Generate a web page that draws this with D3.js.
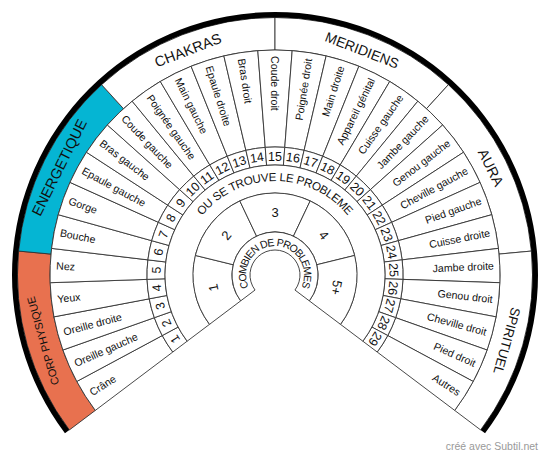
<!DOCTYPE html>
<html><head><meta charset="utf-8">
<script src="https://cdn.jsdelivr.net/npm/d3@7"></script>
<style>body{margin:0;background:#fff}svg{display:block}</style>
</head><body>
<svg id="c" width="550" height="456"></svg>
<script>
// ---------- data ----------
const categories = ["CORP PHYSIQUE","ENERGETIQUE","CHAKRAS","MERIDIENS","AURA","SPIRITUEL"];
const parts = ["Crâne","Oreille gauche","Oreille droite","Yeux","Nez","Bouche","Gorge","Epaule gauche",
  "Bras gauche","Coude gauche","Poignée gauche","Main gauche","Epaule droite","Bras droit","Coude droit",
  "Poignée droit","Main droite","Appareil génital","Cuisse gauche","Jambe gauche","Genou gauche",
  "Cheville gauche","Pied gauche","Cuisse droite","Jambe droite","Genou droit","Cheville droit","Pied droit","Autres"];
const partNumbers = ["1","2","3","4","5","6","7","8","9","10","11","12","13","14","15","16","17","18","19",
  "20","21","22","23","24","25","26","27","28","29"];
const counts = ["1","2","3","4","5+"];
const ringTitle = "OU SE TROUVE LE PROBLEME";
const innerTitle = "COMBIEN DE PROBLEMES";
const credit = "créé avec Subtil.net";

// ---------- style ----------
const FONT = "'Liberation Sans', Arial, Helvetica, sans-serif";
const catFill = {"CORP PHYSIQUE":"#E8714F","ENERGETIQUE":"#05B5D3"};
const catFont = {"CORP PHYSIQUE":11,"ENERGETIQUE":14.5,"CHAKRAS":14.5,"MERIDIENS":14,"AURA":14.3,"SPIRITUEL":13.3};
const LINE = "#333";
const cx = 275, cy = 275, A0 = -127, A1 = 127;
const R = {hole:25, countIn:43, countOut:82, numIn:110, numOut:128, partOut:225, band:257.5, outer:263};
const rad = d => d*Math.PI/180;

const svg = d3.select("#c");
const g = svg.append("g").attr("transform", `translate(${cx},${cy})`);
const arc = d3.arc();

const catScale = d3.scaleBand().domain(categories).range([A0, A1]);
const partScale = d3.scaleBand().domain(parts).range([A0, A1]);
const numScale = d3.scaleBand().domain(partNumbers).range([A0, A1]);
const countScale = d3.scaleBand().domain(counts).range([A0, A1]);
const mid = (s, d) => s(d) + s.bandwidth()/2;
const pos = (r, a) => [r*Math.sin(rad(a)), -r*Math.cos(rad(a))];

function ring(cls, scale, domain, rIn, rOut, fillFn) {
  g.selectAll("path."+cls).data(domain).join("path").attr("class", cls)
    .attr("d", d => arc({innerRadius:rIn, outerRadius:rOut,
      startAngle:rad(scale(d)), endAngle:rad(scale(d)+scale.bandwidth())}))
    .attr("fill", fillFn || "#fff").attr("stroke", LINE).attr("stroke-width", 0.9);
}
function fullRing(rIn, rOut) {
  g.append("path").attr("d", arc({innerRadius:rIn, outerRadius:rOut, startAngle:rad(A0), endAngle:rad(A1)}))
    .attr("fill", "#fff").attr("stroke", LINE).attr("stroke-width", 0.9);
}

// rings
ring("cat", catScale, categories, R.partOut, R.band, d => catFill[d] || "#fff");
g.append("path").attr("d", arc({innerRadius:R.band, outerRadius:R.outer, startAngle:rad(A0), endAngle:rad(A1)}))
  .attr("fill", "#000");
ring("part", partScale, parts, R.numOut, R.partOut);
ring("num", numScale, partNumbers, R.numIn, R.numOut);
fullRing(R.countOut, R.numIn);
ring("cnt", countScale, counts, R.countIn, R.countOut);
fullRing(R.hole, R.countIn);

// category labels (tangential)
g.selectAll("text.cat").data(categories).join("text").attr("class","cat")
  .attr("transform", d => { const a = mid(catScale, d), p = pos((R.partOut+R.band)/2, a);
    return `translate(${p[0]},${p[1]}) rotate(${a})`; })
  .attr("text-anchor","middle").attr("dy","0.36em")
  .attr("font-family", FONT).attr("font-size", d => catFont[d]).attr("fill","#111")
  .text(d => d);

// part labels (radial)
g.selectAll("text.part").data(parts).join("text").attr("class","part")
  .attr("transform", d => { const a = mid(partScale, d), p = pos(219, a);
    const rot = a <= 1e-6 ? a + 90 : a - 90;
    return `translate(${p[0]},${p[1]}) rotate(${rot})`; })
  .attr("text-anchor", d => mid(partScale, d) <= 1e-6 ? "start" : "end")
  .attr("dy","0.36em").attr("font-family", FONT).attr("font-size", 10.6).attr("fill","#111")
  .text(d => d);

// part numbers (tangential)
g.selectAll("text.num").data(partNumbers).join("text").attr("class","num")
  .attr("transform", d => { const a = mid(numScale, d), p = pos((R.numIn+R.numOut)/2, a);
    return `translate(${p[0]},${p[1]}) rotate(${a})`; })
  .attr("text-anchor","middle").attr("dy","0.36em")
  .attr("font-family", FONT).attr("font-size", 12.5).attr("fill","#111").text(d => d);

// counts
g.selectAll("text.cnt").data(counts).join("text").attr("class","cnt")
  .attr("transform", d => { const a = mid(countScale, d), p = pos(63, a);
    return `translate(${p[0]},${p[1]}) rotate(${a})`; })
  .attr("text-anchor","middle").attr("dy","0.36em")
  .attr("font-family", FONT).attr("font-size", 13).attr("fill","#111").text(d => d);

// curved text helper
function curved(str, rBase, fs, spanDeg) {
  const tmp = g.append("text").attr("font-family", FONT).attr("font-size", fs);
  const chars = [...str];
  const widths = chars.map(ch => { tmp.text(ch === " " ? "\u00a0" : ch); return tmp.node().getComputedTextLength(); });
  tmp.remove();
  const total = d3.sum(widths);
  const k = spanDeg ? spanDeg/total : (180/Math.PI)/(rBase + fs*0.3);
  let a = -total*k/2;
  chars.forEach((ch, i) => {
    const c = a + widths[i]*k/2, p = pos(rBase, c);
    if (ch !== " ") g.append("text").attr("transform", `translate(${p[0]},${p[1]}) rotate(${c})`)
      .attr("text-anchor","middle").attr("font-family", FONT).attr("font-size", fs).attr("fill","#111").text(ch);
    a += widths[i]*k;
  });
}
curved(ringTitle, 94, 11.6);
curved(innerTitle, 29, 10.5, 228);

svg.append("text").attr("x", 538).attr("y", 450).attr("text-anchor","end")
  .attr("font-family", FONT).attr("font-size", 10.5).attr("fill","#999").text(credit);
</script>
</body></html>
